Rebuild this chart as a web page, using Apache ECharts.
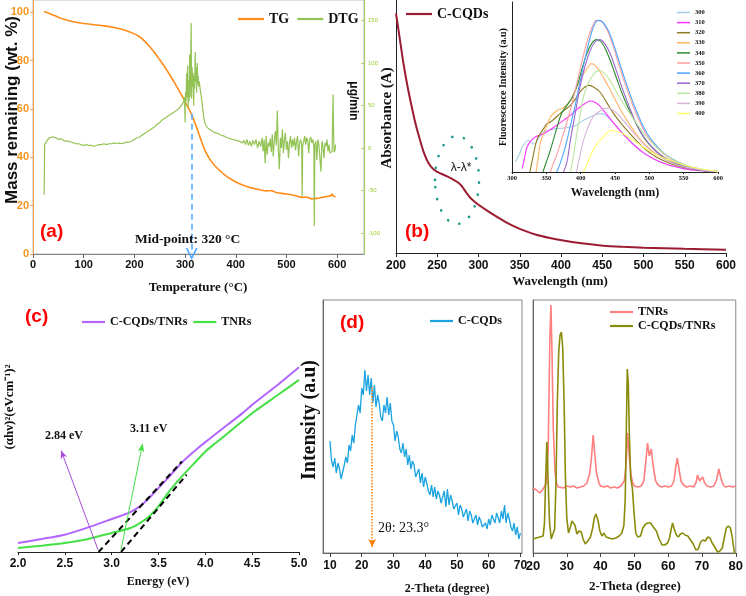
<!DOCTYPE html>
<html>
<head>
<meta charset="utf-8">
<script src="https://cdn.jsdelivr.net/npm/echarts@6/dist/echarts.min.js"></script>
<style>
  html, body { margin: 0; padding: 0; background: #fff; }
  #main { width: 746px; height: 596px; }
</style>
</head>
<body>
<div id="main"></div>
<script>
// ---- (a) TG / DTG ----
const tgData = [[22,100.2],[25,100],[30,99.6],[40,98.8],[50,97.9],[60,97.1],[70,96.5],[80,96],[90,95.6],[100,95.3],[120,94.8],[140,94.3],[160,93.6],[180,92.6],[200,91],[210,89.8],[220,88],[230,85.8],[240,83.2],[250,80.3],[260,77.3],[270,74],[280,70.5],[290,66.8],[300,63],[310,59],[320,54],[330,48],[340,42.5],[350,38.8],[360,36.2],[370,34.2],[380,32.4],[390,31],[400,29.8],[420,28],[440,26.9],[460,26.1],[470,26.2],[480,25.4],[500,24.8],[510,24.5],[520,24],[530,23.4],[540,23.5],[550,22.8],[560,23],[570,23.4],[580,23.8],[588,24.2],[590,24.8],[592,24],[597,23.6]];
const dtgData = [[22,-55],[23,4],[25,6],[28,9],[32,12],[35,14],[40,13],[45,12],[50,10],[55,11],[60,9],[65,8],[70,8],[75,7],[80,6],[85,5],[90,5],[95,4],[100,3],[105,4],[110,3],[115,3],[120,2],[125,3],[130,4],[135,4],[140,5],[145,4],[150,5],[155,5],[160,6],[165,5],[170,6],[175,5],[180,6],[185,7],[190,7],[195,8],[200,10],[205,12],[210,13],[215,15],[220,17],[225,19],[230,21],[235,23],[240,25],[245,28],[250,30],[255,33],[260,35],[265,37],[270,39],[275,41],[280,43],[285,45],[290,48],[293,50],[296,53],[298,57],[299,60],[300,30],[301,66],[302,55],[303,88],[304,60],[305,97],[306,48],[307,80],[308,55],[309,110],[310,60],[311,100],[312,147],[313,58],[314,95],[315,72],[316,88],[317,50],[318,85],[319,70],[320,113],[321,78],[322,95],[323,65],[324,100],[325,75],[326,85],[327,72],[328,78],[330,68],[332,60],[334,50],[336,40],[338,32],[340,28],[342,30],[344,24],[346,26],[348,22],[350,24],[353,20],[356,22],[359,18],[362,20],[365,17],[368,19],[371,15],[374,17],[377,14],[380,15],[383,12],[386,14],[389,11],[392,12],[395,10],[398,12],[401,9],[404,11],[407,8],[410,10],[413,6],[416,9],[419,4],[422,10],[425,3],[428,8],[431,2],[434,9],[437,4],[440,10],[443,0],[446,8],[449,2],[452,12],[454,-4],[456,10],[458,-18],[460,14],[462,-8],[464,6],[466,2],[468,11],[470,-5],[472,16],[474,-10],[476,8],[478,20],[480,3],[482,44],[484,-2],[486,-25],[488,12],[490,0],[492,22],[494,-6],[496,9],[498,18],[500,-2],[502,8],[504,-12],[506,6],[508,14],[510,0],[512,10],[514,2],[516,12],[518,-3],[520,8],[522,14],[524,-10],[526,6],[528,10],[530,4],[531,-57],[532,2],[534,8],[536,14],[538,4],[540,12],[542,8],[544,-6],[546,10],[548,13],[550,6],[552,10],[554,2],[555,-92],[556,4],[558,8],[560,-14],[562,10],[564,4],[566,6],[568,-28],[570,8],[572,2],[574,-12],[576,6],[578,2],[580,10],[582,-4],[584,4],[586,-6],[588,-8],[590,-4],[591,-3],[592,63],[593,20],[594,-5],[596,-2],[597,4]];
const tempTicks = [0, 100, 200, 300, 400, 500, 600];
const massTicks = [0, 20, 40, 60, 80, 100];
const rateTicks = [-100, -50, 0, 50, 100, 150];

// ---- (b) absorbance + fluorescence inset ----
const absData = [[200,7.2],[203,6.7],[206,6.2],[209,5.7],[214,5.0],[219,4.4],[224,3.85],[229,3.4],[234,3.0],[239,2.72],[244,2.55],[249,2.45],[255,2.38],[262,2.3],[270,2.2],[276,2.1],[280,2.0],[285,1.82],[290,1.66],[295,1.55],[300,1.45],[310,1.28],[320,1.12],[333,0.93],[346,0.77],[358,0.65],[370,0.55],[385,0.46],[401,0.38],[425,0.29],[451,0.22],[475,0.185],[500,0.16],[550,0.125],[600,0.1]];
const exNames = ['300','310','320','330','340','350','360','370','380','390','400'];
const exColors = ['#a6cde6','#ff33ff','#8b7a1f','#ffb366','#2e8b2e','#ff9e9e','#4da6ff','#9a66cc','#bce6a0','#d9b3d9','#ffff66'];
const fl300 = [[305,30],[310,50],[315,75],[320,90],[324,95],[328,88],[332,84],[340,105],[346,120],[355,126],[365,130],[375,132],[385,135],[395,142],[404,155],[415,166],[428,175],[435,172],[443,158],[452,138],[462,115],[472,94],[481,75],[492,56],[506,40],[520,27],[535,17],[550,10],[570,5],[600,1]];
const fl310 = [[315,10],[318,40],[322,75],[328,95],[334,105],[340,110],[346,115],[355,126],[365,140],[375,155],[385,170],[392,183],[399,195],[407,206],[414,213],[420,210],[427,200],[433,185],[445,155],[457,125],[469,98],[481,75],[493,56],[506,40],[520,27],[535,17],[550,10],[570,5],[600,1]];
const fl320 = [[326,0],[330,40],[336,95],[341,115],[346,130],[351,145],[356,150],[363,162],[370,175],[378,188],[385,200],[392,218],[399,240],[405,253],[411,260],[418,256],[428,240],[438,208],[448,175],[460,143],[472,115],[484,88],[496,65],[510,45],[525,30],[540,19],[560,10],[580,4],[600,1]];
const fl330 = [[335,0],[338,40],[341,85],[346,115],[351,140],[356,165],[363,180],[369,188],[375,192],[385,215],[392,245],[399,275],[406,300],[412,318],[416,325],[422,318],[430,295],[440,258],[450,218],[460,180],[472,140],[484,105],[496,78],[510,54],[525,36],[540,23],[560,12],[580,5],[600,1]];
const fl340 = [[345,0],[350,30],[355,60],[360,95],[365,130],[372,175],[380,200],[388,225],[395,260],[402,310],[409,355],[416,385],[423,397],[430,390],[438,360],[446,318],[455,265],[465,212],[475,168],[485,128],[495,95],[507,68],[520,46],[535,30],[550,18],[570,8],[600,1]];
const fl350 = [[356,0],[360,25],[365,50],[372,95],[380,150],[388,210],[396,280],[404,350],[412,410],[418,440],[423,455],[430,452],[438,428],[446,385],[455,325],[465,262],[475,205],[485,155],[495,115],[507,82],[520,55],[535,35],[550,21],[570,10],[600,1]];
const fl360 = [[365,0],[370,25],[377,70],[384,130],[392,200],[400,280],[408,355],[416,420],[422,450],[426,455],[432,450],[440,425],[448,383],[457,325],[467,262],[477,205],[487,155],[497,115],[509,82],[522,55],[537,35],[552,21],[572,10],[600,1]];
const fl370 = [[375,0],[380,30],[385,95],[392,175],[399,255],[406,315],[414,365],[421,390],[428,397],[435,385],[443,355],[451,310],[459,260],[469,205],[481,145],[492,105],[505,72],[518,48],[532,31],[548,18],[568,8],[600,1]];
const fl380 = [[385,0],[389,40],[394,110],[399,170],[404,225],[410,262],[416,285],[422,300],[427,305],[435,295],[442,278],[448,255],[460,212],[472,175],[484,138],[496,105],[510,75],[525,50],[540,32],[558,17],[578,7],[600,1]];
const fl390 = [[394,0],[398,40],[404,95],[411,135],[418,165],[426,180],[433,189],[438,192],[445,188],[453,175],[462,155],[476,120],[491,85],[506,58],[522,38],[540,22],[560,11],[580,5],[600,1]];
const fl400 = [[404,0],[410,28],[418,65],[425,88],[433,105],[440,120],[445,125],[452,122],[462,115],[476,96],[491,75],[510,52],[530,35],[550,21],[570,11],[600,2]];
const flData = [fl300, fl310, fl320, fl330, fl340, fl350, fl360, fl370, fl380, fl390, fl400];

// ---- (c) Tauc plot ----
const taucComposite = [[2.0,0.27],[2.25,0.39],[2.5,0.52],[2.75,0.74],[3.0,0.99],[3.1,1.09],[3.2,1.2],[3.3,1.37],[3.4,1.62],[3.5,1.92],[3.6,2.22],[3.75,2.69],[3.9,3.07],[4.0,3.3],[4.1,3.52],[4.25,3.85],[4.4,4.18],[4.5,4.42],[4.75,4.97],[5.0,5.55]];
const taucTNR = [[2.0,0.12],[2.25,0.19],[2.5,0.27],[2.75,0.39],[3.0,0.57],[3.2,0.72],[3.3,0.87],[3.4,1.07],[3.5,1.37],[3.6,1.77],[3.75,2.27],[3.9,2.72],[4.0,3.02],[4.1,3.25],[4.25,3.59],[4.5,4.17],[4.75,4.67],[5.0,5.17]];
const tangentComposite = [[2.86,0],[3.75,2.72]];
const tangentTNR = [[3.10,0],[3.80,2.32]];

// ---- (d) XRD C-CQDs ----
const xrdCQD = [[10,112],[10.5,92],[11,86],[11.5,95],[12,80],[12.5,90],[13,84],[13.5,74],[14,72],[14.5,88],[15,96],[15.5,90],[16,108],[16.5,102],[17,118],[17.5,110],[18,128],[18.5,138],[19,148],[19.5,140],[20,165],[20.5,158],[21,183],[21.5,162],[22,178],[22.5,158],[23,175],[23.5,150],[24,168],[24.5,146],[25,158],[25.5,150],[26,136],[26.5,132],[27,148],[27.5,140],[28,156],[28.5,138],[29,150],[29.5,132],[30,128],[30.5,112],[31,122],[31.5,116],[32,104],[32.5,100],[33,110],[33.5,96],[34,104],[34.5,88],[35,98],[35.5,84],[36,92],[36.5,88],[37,76],[37.5,74],[38,84],[38.5,70],[39,80],[39.5,66],[40,76],[40.5,70],[41,62],[41.5,58],[42,68],[42.5,56],[43,66],[43.5,54],[44,62],[44.5,58],[45,50],[45.5,48],[46,62],[46.5,46],[47,64],[47.5,48],[48,58],[48.5,52],[49,44],[49.5,42],[50,50],[50.5,38],[51,48],[51.5,44],[52,36],[52.5,36],[53,44],[53.5,32],[54,42],[54.5,38],[55,30],[55.5,30],[56,38],[56.5,28],[57,36],[57.5,32],[58,26],[58.5,24],[59,30],[59.5,24],[60,34],[60.5,28],[61,38],[61.5,34],[62,30],[62.5,40],[63,38],[63.5,30],[64,42],[64.5,34],[65,48],[65.5,30],[66,40],[66.5,34],[67,26],[67.5,22],[68,30],[68.5,18],[69,26],[69.5,14],[70,20]];
const thetaTicksD = [10, 20, 30, 40, 50, 60, 70];

// ---- (e) XRD TNRs vs composite ----
const xrdTNR = [[20,65],[20.5,66],[21,63],[21.5,61],[22,60],[22.5,62],[23,64],[23.5,66],[24,70],[24.5,105],[25,215],[25.3,248],[25.6,205],[26,125],[26.5,82],[27,69],[27.5,66],[28,67],[29,65],[30,67],[31,66],[32,67],[33,65],[34,66],[35,67],[36,70],[36.8,80],[37.3,95],[37.8,118],[38.3,98],[38.8,80],[39.5,70],[40,67],[41,66],[42,67],[43,65],[44,66],[45,65],[46,67],[47,72],[47.5,86],[48,120],[48.5,96],[49,78],[49.5,70],[50,67],[51,66],[52,67],[52.8,72],[53.4,92],[53.9,110],[54.4,97],[55,104],[55.6,86],[56.3,72],[57,68],[58,66],[59,67],[60,66],[61,67],[61.7,72],[62.2,85],[62.7,95],[63.2,84],[63.8,72],[64.5,68],[65.5,66],[66.5,67],[67.5,66],[68.2,70],[68.7,78],[69.3,72],[70.2,76],[70.8,70],[71.5,67],[72.5,66],[73.5,67],[74.3,73],[75,84],[75.6,75],[76.3,68],[77,66],[78,67],[79,66],[80,67]];
const xrdComposite = [[20,14],[20.5,16],[21,15],[21.5,17],[22,16],[22.5,14],[23,17],[23.4,30],[23.7,70],[24.1,111],[24.5,70],[24.9,30],[25.4,14],[25.9,12],[26.4,24],[26.8,70],[27.2,150],[27.6,200],[28,218],[28.4,221],[28.8,205],[29.2,150],[29.6,75],[30,35],[30.5,20],[31,25],[31.5,32],[31.9,33],[32.4,28],[33,19],[33.6,22],[34.3,21],[34.8,14],[35.5,9],[36.2,12],[37,16],[37.6,24],[38.2,36],[38.6,39],[39.2,33],[39.8,22],[40.4,17],[41,20],[41.6,16],[42.5,15],[43.5,14],[44.5,15],[45.5,17],[46.3,20],[46.9,28],[47.3,55],[47.6,120],[47.9,184],[48.2,170],[48.5,120],[48.9,75],[49.4,65],[49.9,40],[50.4,20],[51,16],[51.8,17],[52.5,25],[53.3,29],[54,30],[54.8,30],[55.6,26],[56.5,22],[57.3,14],[58.2,8],[59,8],[59.8,10],[60.4,15],[60.9,24],[61.3,30],[61.8,24],[62.4,18],[63,16],[63.6,19],[64.3,20],[65,18],[65.8,17],[66.6,13],[67.4,9],[68.2,3],[68.9,4],[69.6,11],[70.3,13],[71,12],[71.7,16],[72.4,15],[73,10],[73.8,6],[74.6,1],[75.3,2],[76,5],[76.6,15],[77.2,25],[77.8,27],[78.4,25],[78.9,17],[79.4,5],[79.8,-5],[80,-12]];

const SERIF = "'Liberation Serif','Times New Roman',serif";
const SANS = "'Liberation Sans',Arial,sans-serif";
const caret = 'path://M0,10 L5,0 L10,10 L8.6,10 L5,3 L1.4,10 Z';

var chart = echarts.init(document.getElementById('main'), null, { renderer: 'canvas' });

function tickLabel(size, color, family) {
  return { color: color || '#111', fontFamily: family || SANS, fontWeight: 'bold', fontSize: size };
}
function txt(text, x, y, font, opts) {
  opts = opts || {};
  return {
    type: 'text', x: x, y: y, rotation: opts.rot || 0, z: 100,
    style: { text: text, font: font, fill: opts.fill || '#111',
      align: opts.align || 'center', verticalAlign: 'middle' }
  };
}
function plain(name, xi, yi, data, color, width, extra) {
  return Object.assign({
    name: name, type: 'line', xAxisIndex: xi, yAxisIndex: yi, data: data,
    showSymbol: false, symbol: 'none', animation: false, silent: true,
    lineStyle: { color: color, width: width }, itemStyle: { color: color }
  }, extra || {});
}

var series = [];
series.push(plain('TG', 0, 0, tgData, '#ff8c1a', 1.6, {
  smooth: 0.3,
  markLine: {
    silent: true, animation: false, symbol: ['none', caret], symbolSize: [12, 12],
    label: { show: false },
    lineStyle: { color: '#4da6ff', type: [6, 4], width: 1.5 },
    data: [[{ coord: [313, 58] }, { coord: [313, 0] }]]
  }
}));
series.push(plain('DTG', 0, 1, dtgData, '#94c355', 1.2));
series.push(plain('b:C-CQDs', 1, 2, absData, '#9b1b30', 2, { smooth: 0.3 }));
exNames.forEach(function (n, i) {
  series.push(plain(n, 2, 3, flData[i], exColors[i], 1.1, { smooth: 0.4 }));
});
series.push(plain('c:C-CQDs/TNRs', 3, 4, taucComposite, '#b266ff', 2, {
  smooth: 0.2,
  markLine: {
    silent: true, animation: false, symbol: ['none', 'arrow'], symbolSize: [5, 8],
    label: { show: false }, lineStyle: { color: '#a64dd9', type: 'solid', width: 1 },
    data: [[{ coord: [2.854, 0.07] }, { coord: [2.46, 3.05] }]]
  }
}));
series.push(plain('c:TNRs', 3, 4, taucTNR, '#44e044', 2, {
  smooth: 0.2,
  markLine: {
    silent: true, animation: false, symbol: ['none', 'arrow'], symbolSize: [5, 8],
    label: { show: false }, lineStyle: { color: '#44e044', type: 'solid', width: 1 },
    data: [[{ coord: [3.10, 0.07] }, { coord: [3.33, 3.25] }]]
  }
}));
series.push(plain('tanA', 3, 4, tangentComposite, '#000', 2, { lineStyle: { color: '#000', width: 2, type: [6, 4] } }));
series.push(plain('tanB', 3, 4, tangentTNR, '#000', 2, { lineStyle: { color: '#000', width: 2, type: [6, 4] } }));
series.push(plain('d:C-CQDs', 4, 5, xrdCQD, '#1aa3e0', 1.3, {
  markLine: {
    silent: true, animation: false, symbol: ['none', 'arrow'], symbolSize: [6, 8],
    label: { show: false }, lineStyle: { color: '#ff8000', type: 'dotted', width: 1.5 },
    data: [[{ coord: [23.3, 166] }, { coord: [23.3, 6] }]]
  }
}));
series.push(plain('e:TNRs', 5, 6, xrdTNR, '#ff7f7f', 1.6));
series.push(plain('e:C-CQDs/TNRs', 5, 6, xrdComposite, '#8b8b0b', 1.6));

function lg(names, left, top, opts) {
  opts = opts || {};
  return Object.assign({
    data: names, left: left, top: top, padding: 0, icon: 'rect',
    itemWidth: 25, itemHeight: 2.2, itemGap: 8, selectedMode: false,
    formatter: function (n) { return n.indexOf(':') > 0 ? n.split(':')[1] : n; },
    textStyle: { fontFamily: SERIF, fontWeight: 'bold', fontSize: 13, color: '#111' }
  }, opts);
}

var option = {
  backgroundColor: '#fff',
  animation: false,
  grid: [
    { left: 33, top: 0, width: 331, height: 254, show: true, borderColor: '#bbb', borderWidth: 1 },
    { left: 396, top: 0, width: 330, height: 253 },
    { left: 512, top: 2, width: 206, height: 170 },
    { left: 18, top: 300, width: 281, height: 252 },
    { left: 323, top: 300, width: 199, height: 253, show: true, borderColor: '#888', borderWidth: 1 },
    { left: 533, top: 300, width: 204, height: 253, show: true, borderColor: '#888', borderWidth: 1 }
  ],
  xAxis: [
    { type: 'value', gridIndex: 0, min: 0, max: 653,
      axisLine: { lineStyle: { color: '#888' } },
      axisTick: { customValues: tempTicks, length: 4, lineStyle: { color: '#666' } },
      axisLabel: Object.assign({ customValues: tempTicks, margin: 5 }, tickLabel(11)),
      splitLine: { show: false } },
    { type: 'value', gridIndex: 1, min: 200, max: 600, interval: 50,
      axisLine: { lineStyle: { color: '#222' } },
      axisTick: { length: 4, lineStyle: { color: '#222' } },
      axisLabel: Object.assign({ margin: 7 }, tickLabel(12)),
      splitLine: { show: false } },
    { type: 'value', gridIndex: 2, min: 300, max: 600, interval: 50,
      axisLine: { lineStyle: { color: '#222' } },
      axisTick: { length: 2, lineStyle: { color: '#222' } },
      axisLabel: Object.assign({ margin: 3 }, tickLabel(6.5, '#111', SERIF)),
      splitLine: { show: false } },
    { type: 'value', gridIndex: 3, min: 2, max: 5, interval: 0.5,
      axisLine: { lineStyle: { color: '#222' } },
      axisTick: { length: 3, lineStyle: { color: '#222' } },
      axisLabel: Object.assign({ margin: 6, formatter: function (v) { return v.toFixed(1); } }, tickLabel(12)),
      splitLine: { show: false } },
    { type: 'value', gridIndex: 4, min: 7.8, max: 70.5,
      axisLine: { lineStyle: { color: '#666' } },
      axisTick: { customValues: thetaTicksD, length: 4, lineStyle: { color: '#444' } },
      axisLabel: Object.assign({ customValues: thetaTicksD, margin: 7 }, tickLabel(12)),
      splitLine: { show: false } },
    { type: 'value', gridIndex: 5, min: 20, max: 80, interval: 10,
      axisLine: { lineStyle: { color: '#666' } },
      axisTick: { length: 4, lineStyle: { color: '#444' } },
      axisLabel: Object.assign({ margin: 7 }, tickLabel(13)),
      splitLine: { show: false } }
  ],
  yAxis: [
    { type: 'value', gridIndex: 0, min: 0, max: 105,
      axisLine: { show: true, lineStyle: { color: '#f5a04a' } },
      axisTick: { show: true, customValues: massTicks, length: 3, lineStyle: { color: '#f5a04a' } },
      axisLabel: Object.assign({ customValues: massTicks, margin: 4 }, tickLabel(11, '#f7941d')),
      splitLine: { show: false } },
    { type: 'value', gridIndex: 0, position: 'right', min: -124.7, max: 174.1,
      axisLine: { show: true, lineStyle: { color: '#a6d16a', width: 1.2 } },
      axisTick: { show: true, inside: true, customValues: rateTicks, length: 3, lineStyle: { color: '#a6d16a' } },
      axisLabel: { customValues: rateTicks, margin: 4, color: '#9acd32', fontFamily: SANS, fontSize: 6 },
      splitLine: { show: false } },
    { type: 'value', gridIndex: 1, min: 0, max: 7.6,
      axisLine: { show: true, lineStyle: { color: '#222' } },
      axisTick: { show: false }, axisLabel: { show: false }, splitLine: { show: false } },
    { type: 'value', gridIndex: 2, min: 0, max: 510,
      axisLine: { show: true, lineStyle: { color: '#222' } },
      axisTick: { show: false }, axisLabel: { show: false }, splitLine: { show: false } },
    { type: 'value', gridIndex: 3, min: 0, max: 7.57,
      axisLine: { show: false }, axisTick: { show: false }, axisLabel: { show: false }, splitLine: { show: false } },
    { type: 'value', gridIndex: 4, min: 0, max: 253,
      axisLine: { show: true, lineStyle: { color: '#666' } },
      axisTick: { show: false }, axisLabel: { show: false }, splitLine: { show: false } },
    { type: 'value', gridIndex: 5, min: 0, max: 253,
      axisLine: { show: true, lineStyle: { color: '#666' } },
      axisTick: { show: false }, axisLabel: { show: false }, splitLine: { show: false } }
  ],
  legend: [
    lg(['TG', 'DTG'], 238, 12, { itemWidth: 26, textStyle: { fontFamily: SERIF, fontWeight: 'bold', fontSize: 14, color: '#111' } }),
    lg(['b:C-CQDs'], 406, 7, { itemWidth: 26, textStyle: { fontFamily: SERIF, fontWeight: 'bold', fontSize: 14, color: '#111' } }),
    lg(exNames, 677, 9, { orient: 'vertical', itemWidth: 13, itemHeight: 1.5, itemGap: 3.1,
      textStyle: { fontFamily: SERIF, fontWeight: 'bold', fontSize: 6.5, color: '#111' } }),
    lg(['c:C-CQDs/TNRs', 'c:TNRs'], 82, 316, { itemWidth: 23, itemGap: 6,
      textStyle: { fontFamily: SERIF, fontWeight: 'bold', fontSize: 12, color: '#111' } }),
    lg(['d:C-CQDs'], 430, 315, { itemWidth: 23,
      textStyle: { fontFamily: SERIF, fontWeight: 'bold', fontSize: 12, color: '#111' } }),
    lg(['e:TNRs', 'e:C-CQDs/TNRs'], 610, 306, { orient: 'vertical', itemWidth: 23, itemGap: 2,
      textStyle: { fontFamily: SERIF, fontWeight: 'bold', fontSize: 12, color: '#111' } })
  ],
  graphic: [
    txt('(a)', 40, 232, 'bold 19px ' + SANS, { fill: '#ff0000', align: 'left' }),
    txt('Mid-point: 320 \u00B0C', 135, 240, 'bold 13.5px ' + SERIF, { align: 'left' }),
    txt('Temperature (\u00B0C)', 198, 288, 'bold 13px ' + SERIF),
    txt('Mass remaining (wt. %)', 12, 110, 'bold 17px ' + SANS, { rot: Math.PI / 2 }),
    txt('\u03BCg/min', 353, 101, 'bold 12px ' + SANS, { rot: -Math.PI / 2 }),
    txt('(b)', 405, 232, 'bold 19px ' + SANS, { fill: '#ff0000', align: 'left' }),
    txt('\u03BB-\u03BB*', 461, 168, '12px ' + SANS),
    txt('Absorbance (A)', 387, 118, 'bold 15px ' + SERIF, { rot: Math.PI / 2 }),
    txt('Wavelength (nm)', 560, 282, 'bold 13px ' + SERIF),
    txt('Wavelength (nm)', 615, 193, 'bold 12px ' + SERIF),
    txt('Fluorescence Intensity (a.u)', 503, 87, 'bold 10px ' + SERIF, { rot: Math.PI / 2 }),
    txt('(c)', 25, 317, 'bold 19px ' + SANS, { fill: '#ff0000', align: 'left' }),
    txt('(\u03B1h\u03BD)\u00B2(eVcm\u207B\u00B9)\u00B2', 10, 407, 'bold 13px ' + SERIF, { rot: Math.PI / 2 }),
    txt('Energy (eV)', 158, 582, 'bold 12px ' + SERIF),
    txt('2.84 eV', 45, 436, 'bold 12px ' + SERIF, { align: 'left' }),
    txt('3.11 eV', 130, 429, 'bold 12px ' + SERIF, { align: 'left' }),
    txt('(d)', 340, 323, 'bold 19px ' + SANS, { fill: '#ff0000', align: 'left' }),
    txt('Intensity (a.u)', 310, 420, 'bold 20px ' + SERIF, { rot: Math.PI / 2 }),
    txt('2-Theta (degree)', 447, 589, 'bold 12px ' + SERIF),
    txt('2\u03B8: 23.3\u00B0', 378, 528, '14px ' + SERIF, { align: 'left' }),
    txt('2-Theta (degree)', 635, 587, 'bold 13px ' + SERIF),
    { type: 'ellipse', z: 100, silent: true,
      shape: { cx: 457, cy: 180, rx: 22, ry: 44 },
      style: { fill: null, stroke: '#1a9988', lineWidth: 2.6, lineDash: [0.1, 12], lineCap: 'round' } }
  ],
  series: series
};

chart.setOption(option);
</script>
</body>
</html>
